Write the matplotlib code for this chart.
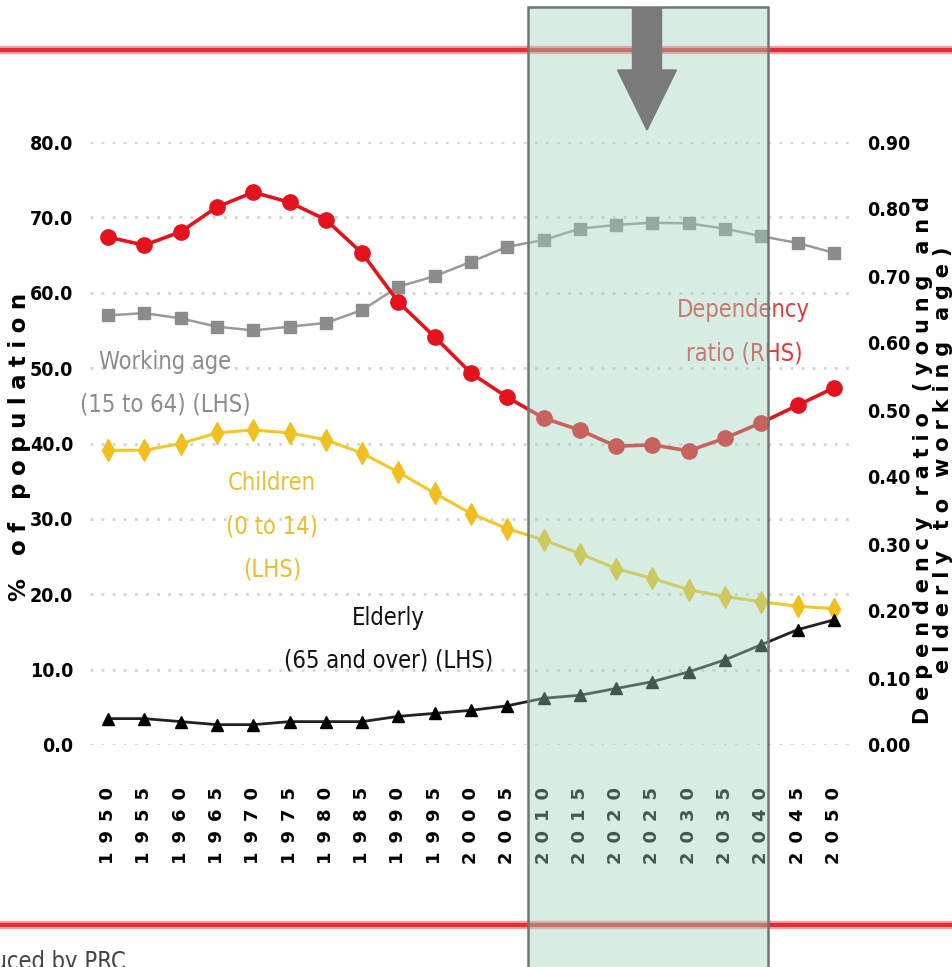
import matplotlib.pyplot as plt
import matplotlib.transforms as mtransforms
from matplotlib.patches import Rectangle, FancyArrow
from matplotlib.lines import Line2D

years = [1950, 1955, 1960, 1965, 1970, 1975, 1980, 1985, 1990, 1995, 2000,
         2005, 2010, 2015, 2020, 2025, 2030, 2035, 2040, 2045, 2050]
working_age = [57.0, 57.3, 56.6, 55.5, 55.0, 55.5, 56.0, 57.7, 60.8, 62.2, 64.1,
               66.1, 67.0, 68.5, 69.0, 69.3, 69.2, 68.5, 67.5, 66.6, 65.3]
children = [39.1, 39.1, 40.0, 41.4, 41.8, 41.4, 40.5, 38.7, 36.2, 33.4, 30.7,
            28.7, 27.2, 25.4, 23.4, 22.1, 20.6, 19.7, 19.0, 18.4, 18.1]
elderly = [3.5, 3.5, 3.1, 2.7, 2.7, 3.1, 3.1, 3.1, 3.8, 4.2, 4.6,
           5.2, 6.2, 6.6, 7.5, 8.4, 9.7, 11.3, 13.3, 15.3, 16.6]
dependency = [0.758, 0.746, 0.766, 0.803, 0.825, 0.810, 0.784, 0.734, 0.661, 0.609, 0.555,
              0.519, 0.488, 0.470, 0.446, 0.448, 0.439, 0.458, 0.481, 0.507, 0.533]

left_ticks = [0, 10, 20, 30, 40, 50, 60, 70, 80]
right_ticks = [0.0, 0.1, 0.2, 0.3, 0.4, 0.5, 0.6, 0.7, 0.8, 0.9]
shade_years = (2007.85, 2040.9)

narrow = ['DejaVu Sans Condensed', 'Liberation Sans Narrow', 'DejaVu Sans']


def spaced(s, gap='\u2002'):
    # the source image is stretched vertically, so rotated text runs long
    return gap.join(s)


fig = plt.figure(figsize=(9.53, 9.67), dpi=100)
ax = fig.add_axes([90 / 953, 1 - 745 / 967, 762 / 953, 603 / 967])
ax2 = ax.twinx()

ax.set_xlim(1947.5, 2052.5)
ax.set_ylim(0, 80)
ax2.set_ylim(0, 0.9)

for y in left_ticks:
    ax.axhline(y, color='#d4d4d4', lw=2, ls=(0, (1, 3)), zorder=0)

ax.plot(years, working_age, color='#9a9a9a', lw=1.8, marker='s', ms=8.5,
        mfc='#8c8c8c', mec='#8c8c8c', clip_on=False, zorder=3)
ax.plot(years, children, color='#f0c82a', lw=2.2, marker='d', ms=11,
        mfc='#f0c020', mec='#f0c020', clip_on=False, zorder=3)
ax.plot(years, elderly, color='#222222', lw=2.0, marker='^', ms=9,
        mfc='black', mec='black', clip_on=False, zorder=3)
ax2.plot(years, dependency, color='#e3121c', lw=2.6, marker='o', ms=11,
         mfc='#e3121c', mec='#e3121c', clip_on=False, zorder=3)

for a in (ax, ax2):
    for s in a.spines.values():
        s.set_visible(False)
    a.tick_params(length=0)

ax.set_yticks(left_ticks)
ax.set_yticklabels([f'{v:.1f}' for v in left_ticks], family=narrow,
                   fontstretch='condensed', fontweight='bold', fontsize=14)
ax.tick_params(axis='y', pad=12)
ax2.set_yticks(right_ticks)
ax2.set_yticklabels([f'{v:.2f}' for v in right_ticks], family=narrow,
                    fontstretch='condensed', fontweight='bold', fontsize=14)
ax2.tick_params(axis='y', pad=11)

ax.set_xticks(years)
ax.set_xticklabels([spaced(str(y)) for y in years], rotation=90,
                   fontweight='bold', fontsize=13)
ax.tick_params(axis='x', pad=30)

ax.set_ylabel(spaced('% of population', '\u2004'), fontweight='bold', fontsize=16.5)
ax.yaxis.set_label_coords(-0.078, 0.494)
ax2.set_ylabel(spaced('Dependency ratio (young and', '\u2004') + '\n'
               + spaced('elderly to working age)', '\u2004'),
               fontweight='bold', fontsize=15, rotation=90, linespacing=1.0)
ax2.yaxis.set_label_coords(1.08, 0.473)

ax.text(1957.9, 48, 'Working age\n(15 to 64) (LHS)', color='#8c8c8c',
        family=narrow, fontstretch='condensed', fontsize=17, ha='center',
        va='center', linespacing=2.0)
ax.text(1972.6, 29, 'Children\n(0 to 14)\n(LHS)', color='#e8bf2c',
        family=narrow, fontstretch='condensed', fontsize=17, ha='center',
        va='center', linespacing=2.0)
ax.text(1988.6, 14, 'Elderly\n(65 and over) (LHS)', color='#111111',
        family=narrow, fontstretch='condensed', fontsize=17, ha='center',
        va='center', linespacing=2.0)
ax.text(2037.6, 54.8, 'Dependency\nratio (RHS)', color='#e03a3a',
        family=narrow, fontstretch='condensed', fontsize=17, ha='center',
        va='center', linespacing=2.0)

# red rules across the page
for yy in (1 - 50 / 967, 1 - 925 / 967):
    fig.add_artist(Line2D([0, 1], [yy, yy], transform=fig.transFigure,
                          color='#f2a0a2', lw=6, zorder=0.5))
    fig.add_artist(Line2D([0, 1], [yy, yy], transform=fig.transFigure,
                          color='#e52d35', lw=3, zorder=0.6))

# shaded projection box
trans = mtransforms.blended_transform_factory(ax.transData, fig.transFigure)
x0, x1 = shade_years
fig.add_artist(Rectangle((x0, -0.02), x1 - x0, 1.02 - 7 / 967, transform=trans,
                         facecolor=(0.63, 0.83, 0.73), alpha=0.42,
                         edgecolor='none', zorder=1))
fig.add_artist(Rectangle((x0, -0.02), x1 - x0, 1.02 - 7 / 967, transform=trans,
                         facecolor='none', edgecolor='#6e7772', lw=1.8, zorder=1.1))

fig.add_artist(FancyArrow(647 / 953, 1 - 8 / 967, 0, -122 / 967,
                          width=29 / 953, head_width=59 / 953, head_length=60 / 967,
                          length_includes_head=True, transform=fig.transFigure,
                          color='#7a7a7a', zorder=3))

fig.text(126 / 953, 1 - 950 / 967, 'Source: produced by PRC', family=narrow,
         fontstretch='condensed', fontsize=17, color='#444444', ha='right', va='top')

fig.savefig('out.png', dpi=100)
